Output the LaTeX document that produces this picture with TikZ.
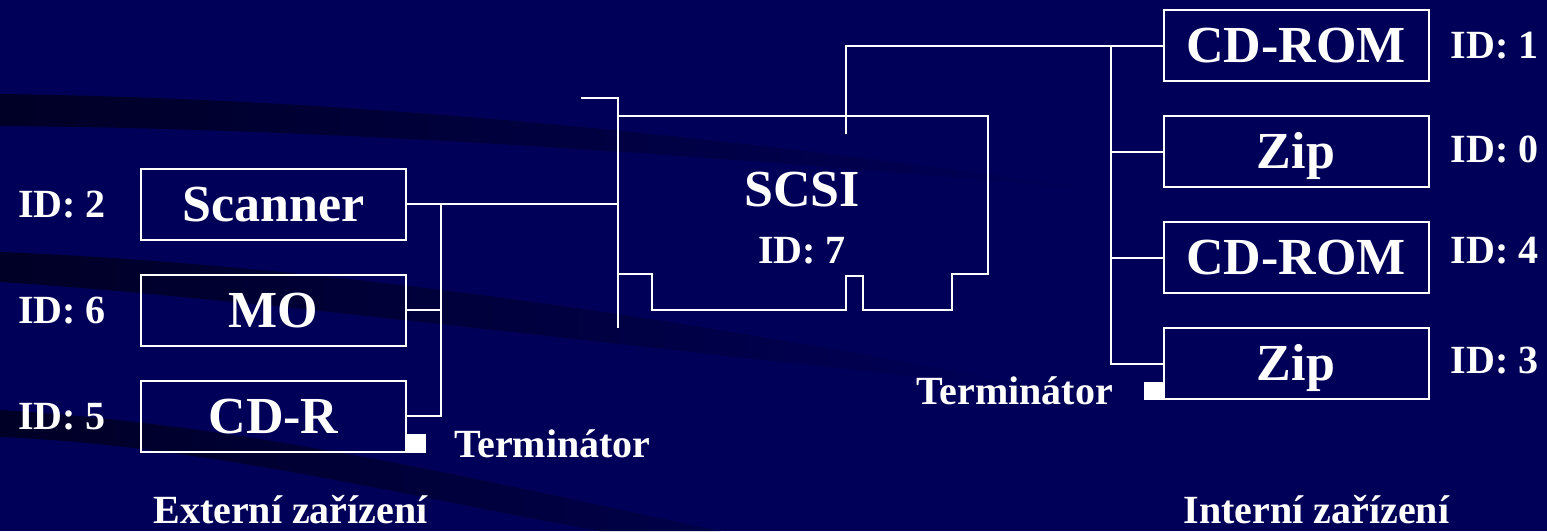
\documentclass[tikz,border=0pt]{standalone}
\usepackage{fontspec}
\setmainfont{Liberation Serif}
\usepackage{xcolor}
\usepackage{tikz}
\usetikzlibrary{positioning,calc}
\definecolor{navy}{RGB}{0,0,88}
\definecolor{darknavy}{RGB}{0,0,38}

\begin{document}
\begin{tikzpicture}[
  x=1pt, y=-1pt,
  node distance = 33pt and 21pt,
  device/.style = {rectangle, draw=white, line width=2pt, text=white,
                   minimum width=265pt, minimum height=71pt, inner sep=0pt,
                   text height=34pt, text depth=0pt,
                   font=\fontsize{52}{52}\selectfont\bfseries},
  cardlabel/.style = {text=white, inner sep=0pt, text height=34pt, text depth=0pt,
                      font=\fontsize{52}{52}\selectfont\bfseries},
  idtag/.style = {text=white, inner sep=0pt, text height=26.5pt, text depth=0pt,
                  font=\fontsize{40}{40}\selectfont\bfseries},
  bus/.style = {draw=white, line width=2pt},
  terminator/.style = {fill=white, minimum size=18.5pt, inner sep=0pt, outer sep=0pt},
]
\useasboundingbox (0,0) rectangle (1547,531);
\fill[navy] (0,0) rectangle (1547,531);

% background swooshes
\shade[left color=darknavy, right color=navy]
  (0,94) .. controls (300,98) and (650,125) .. (1100,190)
  .. controls (650,150) and (300,128) .. (0,126) -- cycle;
\shade[left color=darknavy, right color=navy]
  (0,252) .. controls (250,262) and (600,300) .. (1050,390)
  .. controls (600,345) and (250,298) .. (0,282) -- cycle;
\shade[left color=darknavy, right color=navy!70!darknavy]
  (0,410) .. controls (250,425) and (480,480) .. (720,531)
  -- (600,531) .. controls (400,495) and (200,445) .. (0,437) -- cycle;

% external devices
\node[device] (scanner) at (273.5,204) {Scanner};
\node[device, below=of scanner] (mo) {MO};
\node[device, below=of mo] (cdr) {CD-R};
\node[idtag, left=34pt of scanner] (idscanner) {ID: 2};
\node[idtag, left=34pt of mo] (idmo) {ID: 6};
\node[idtag, left=34pt of cdr] (idcdr) {ID: 5};
\node[terminator, anchor=south west] (termext) at (cdr.south east) {};
\node[idtag, anchor=base west] (termexttext) at (454,457) {Terminátor};
\node[idtag, anchor=base] (extlabel) at (290.5,523) {Externí zařízení};

% internal devices
\node[device] (cdromA) at (1296,45.5) {CD-ROM};
\node[device, below=of cdromA] (zipB) {Zip};
\node[device, below=of zipB] (cdromC) {CD-ROM};
\node[device, below=of cdromC] (zipD) {Zip};
\node[idtag, right=of cdromA] (idcdromA) {ID: 1};
\node[idtag, right=of zipB, yshift=2pt] (idzipB) {ID: 0};
\node[idtag, right=of cdromC, yshift=7pt] (idcdromC) {ID: 4};
\node[idtag, right=of zipD, yshift=3pt] (idzipD) {ID: 3};
\node[terminator, anchor=south east] (termint) at (zipD.south west) {};
\node[idtag, anchor=base east] (terminttext) at (1113,404.3) {Terminátor};
\node[idtag, anchor=base] (intlabel) at (1316.5,523) {Interní zařízení};

% SCSI card
\draw[bus] (581,98.3) -| (617.7,328.3);
\draw[bus] (617.7,116) -- (987.7,116) -- (987.7,274.3) -- (952.3,274.3)
  -- (952.3,310) -- (863.3,310) -- (863.3,275.7) -- (846,275.7)
  -- (846,310) -- (652.3,310) -- (652.3,274.3) -- (617.7,274.3);
\node[cardlabel] (scsi) at (802,189) {SCSI};
\node[idtag] (idscsi) at (802,250.3) {ID: 7};

% bus connections
\coordinate (slot) at (617.7,204);
\coordinate (extbus) at (441,204);
\coordinate (cardtap) at (846,134);
\coordinate (intbus) at (1111,45.5);
\draw[bus] (scanner.east) -- (scanner.east -| slot);
\draw[bus] (extbus) |- (cdr.east);
\draw[bus] (mo.east) -- (mo.east -| extbus);
\draw[bus] (cardtap) |- (cdromA.west);
\draw[bus] (intbus) |- (zipD.west);
\foreach \dev in {zipB,cdromC}
  \draw[bus] (\dev.west) -- (\dev.west -| intbus);
\end{tikzpicture}
\end{document}
